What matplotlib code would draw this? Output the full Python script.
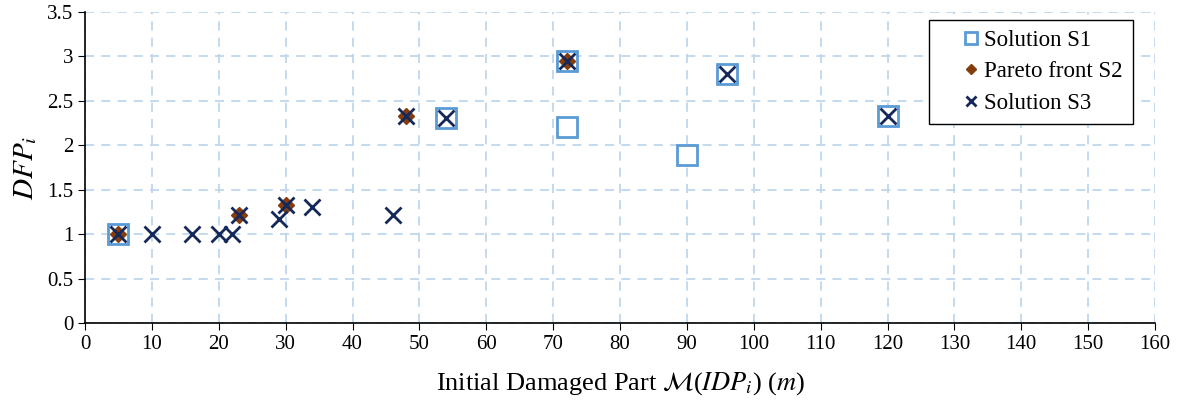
import matplotlib
matplotlib.use("Agg")
import matplotlib.pyplot as plt

plt.rcParams['font.family'] = ['Liberation Serif', 'DejaVu Serif']
plt.rcParams['mathtext.fontset'] = 'stix'

s1_x = [5, 54, 72, 72, 90, 96, 120]
s1_y = [1.0, 2.31, 2.95, 2.21, 1.89, 2.80, 2.33]

s2_x = [5, 23, 30, 48, 72]
s2_y = [1.0, 1.22, 1.33, 2.33, 2.95]

s3_x = [5, 10, 16, 20, 22, 23, 29, 30, 34, 46, 48, 54, 72, 96, 120]
s3_y = [1.0, 1.0, 1.0, 1.0, 1.0, 1.22, 1.17, 1.33, 1.30, 1.22, 2.33, 2.31, 2.95, 2.80, 2.33]

fig = plt.figure(figsize=(11.82, 4.05), dpi=100)
ax = fig.add_axes([85 / 1182, 1 - 323 / 405, 1070 / 1182, 311 / 405])

ax.plot(s1_x, s1_y, 's', ms=15, mfc='white', mec='#5B9BD5', mew=2, ls='none',
        label='Solution S1', zorder=3)
ax.plot(s2_x, s2_y, 'D', ms=8, color='#843C0C', ls='none',
        label='Pareto front S2', zorder=4)
ax.plot(s3_x, s3_y, 'x', ms=11, mew=2, color='#14285A', ls='none',
        label='Solution S3', zorder=5)

ax.set_xlim(0, 160)
ax.set_ylim(0, 3.5)
ax.set_xticks(range(0, 161, 10))
ax.set_yticks([0, 0.5, 1, 1.5, 2, 2.5, 3, 3.5])
ax.set_yticklabels(['0', '0.5', '1', '1.5', '2', '2.5', '3', '3.5'])
ax.tick_params(labelsize=15, direction='out', length=5, color='black')
ax.grid(True, color='#BDD7EE', ls=(0, (5, 4)), lw=1.3)
ax.set_axisbelow(True)
for side in ['top', 'right']:
    ax.spines[side].set_visible(False)
for side in ['left', 'bottom']:
    ax.spines[side].set_linewidth(1.2)

ax.set_xlabel(r'Initial Damaged Part $\mathcal{M}$($IDP_i$) ($m$)', fontsize=19, labelpad=12)
ax.set_ylabel(r'$DFP_i$', fontsize=21, labelpad=6)

# wide handle + negative pad pushes the marker away from the frame's left edge
leg = ax.legend(loc='upper right', bbox_to_anchor=(0.979, 0.975), fontsize=16.5,
                markerscale=0.6, handlelength=2.8, handletextpad=-0.85,
                borderpad=0.45, labelspacing=0.45, borderaxespad=0,
                fancybox=False, framealpha=1)
leg.get_frame().set_edgecolor('black')
leg.get_frame().set_linewidth(1)

fig.savefig('out.png', dpi=100)
